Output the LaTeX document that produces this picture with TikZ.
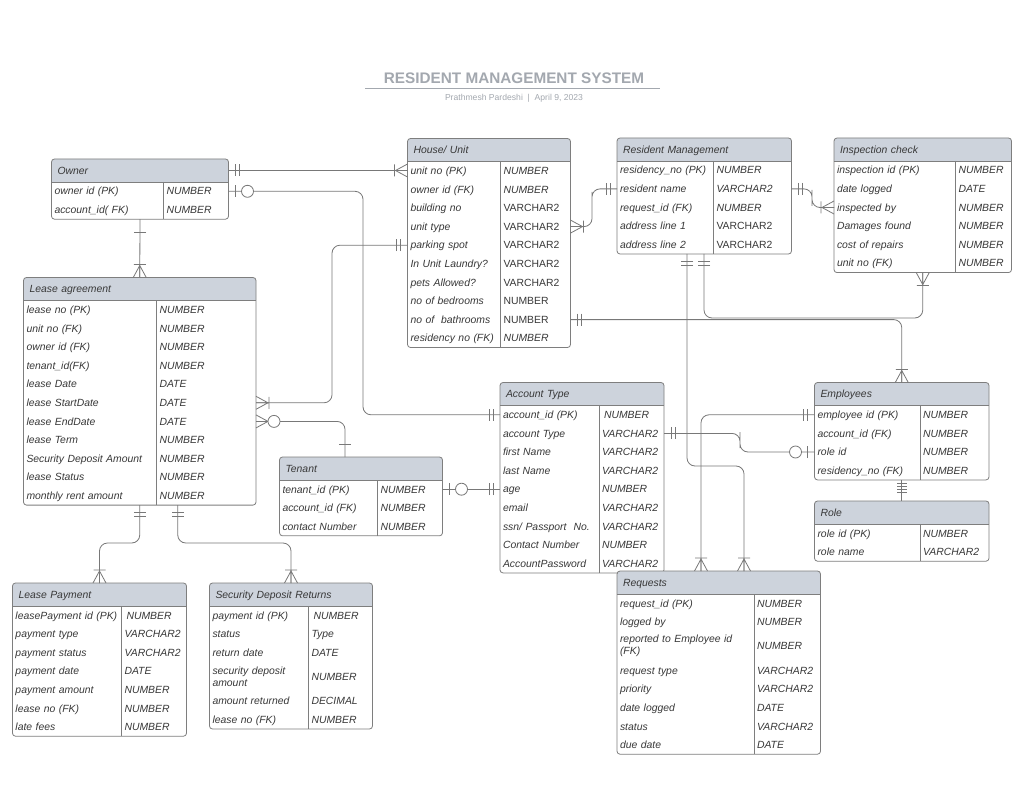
\documentclass[tikz,border=0pt]{standalone}
\usepackage{fontspec}
\setmainfont{Liberation Sans}
\usetikzlibrary{calc}
\definecolor{hdrc}{HTML}{CDD3DC}
\definecolor{bordc}{HTML}{7E7E7E}
\definecolor{linec}{HTML}{787878}
\definecolor{txtc}{HTML}{383838}
\definecolor{titc}{HTML}{A3A8AF}
\newcommand\up[1]{\textup{#1}}
\newcommand\ertab[6]{%
  \xdef\ername{#1}\xdef\erx{#2}\xdef\ertop{#3}\xdef\erw{#4}\xdef\erd{#5}%
  \pgfmathsetmacro\ertmp{#3+23}\xdef\ery{\ertmp}%
  \pgfmathsetmacro\ertmpw{#4-12}%
  \fill[hdrc, rounded corners=3pt] (#2,#3+23) -- (#2,#3) -- (#2+#4,#3) -- (#2+#4,#3+23);
  \node[hdr, text width=\ertmpw pt, anchor=base west] (#1) at (#2,#3+15.2) {#6};
}
\newcommand\erow[4][18.6]{%
  \pgfmathsetmacro\ertmpw{\erd-5}%
  \ifdim#1pt>20pt
    \pgfmathsetmacro\ertc{\ery+#1/2}%
    \node[fld, text width=\ertmpw pt, anchor=west] (\ername-#2) at (\erx,\ertc) {#3};
    \node[fld, anchor=base west] (\ername-#2t) at (\erx+\erd,\ertc+3.7) {#4};
  \else
    \pgfmathsetmacro\ertc{\ery+#1/2+3.7}%
    \node[fld, text width=\ertmpw pt, anchor=base west] (\ername-#2) at (\erx,\ertc) {#3};
    \node[fld, anchor=base west] (\ername-#2t) at (\erx+\erd,\ertc) {#4};
  \fi
  \pgfmathsetmacro\ertmp{\ery+#1}\xdef\ery{\ertmp}%
  \pgfmathsetmacro\ertmp{\ery-#1/2}%
  \coordinate (\ername-#2c) at (\erx,\ertmp);
}
\newcommand\ertabend{%
  \pgfmathsetmacro\erh{\ery-\ertop}%
  \node[tbox, minimum width=\erw pt, minimum height=\erh pt, anchor=north west] (\ername-box) at (\erx,\ertop) {};
  \draw[bordc, line width=0.8pt] (\erx,\ertop+23) -- (\erx+\erw,\ertop+23);
  \draw[bordc, line width=0.8pt] (\erx+\erd,\ertop+23) -- (\erx+\erd,\ery);
}
\tikzset{
  hdr/.style={font=\fontsize{10.4}{12}\selectfont\itshape, text=txtc, inner xsep=6pt, inner ysep=0pt, outer sep=0pt, align=left},
  fld/.style={font=\fontsize{10.4}{12}\selectfont\itshape, text=txtc, inner xsep=3pt, inner ysep=0pt, outer sep=0pt, align=left},
  tbox/.style={draw=bordc, line width=0.8pt, rounded corners=3pt, inner sep=0pt, outer sep=0pt},
  conn/.style={draw=linec, line width=0.8pt, rounded corners=8pt},
  mk/.style={draw=linec, line width=0.8pt},
  pics/erone/.style={code={\draw[mk] (13,-6) -- (13,6);}},
  pics/eronlyone/.style={code={\draw[mk] (7,-6) -- (7,6) (11,-6) -- (11,6);}},
  pics/eronemany/.style={code={\draw[mk] (0,-6.5) -- (12,0) -- (0,6.5) (0,0) -- (12,0) (13,-6) -- (13,6);}},
  pics/erzeromany/.style={code={\draw[mk] (0,-6.5) -- (12,0) -- (0,6.5); \draw[mk, fill=white] (18,0) circle (6pt);}},
  pics/erzeroone/.style={code={\draw[mk] (7,-6) -- (7,6); \draw[mk, fill=white] (19,0) circle (6pt);}},
  pics/erquad/.style={code={\draw[mk] (3,-5) -- (3,5) (6,-5) -- (6,5) (9,-5) -- (9,5) (12,-5) -- (12,5);}},
}
\begin{document}
\begin{tikzpicture}[x=1pt,y=-1pt]
\fill[white] (0,0) rectangle (1024,791);
\useasboundingbox (0,0) rectangle (1024,791);

% title
\node[font=\bfseries\fontsize{15.3}{18}\selectfont, text=titc] (title) at (514,78) {RESIDENT MANAGEMENT SYSTEM};
\draw[titc, line width=1pt] (365,88.5) -- (660,88.5);
\node[font=\fontsize{8.6}{10}\selectfont, text=titc] (subtitle) at (514,98) {Prathmesh Pardeshi\ \ |\ \ April 9, 2023};

% Owner
\ertab{owner}{51.5}{159}{177}{112}{Owner}
\erow{r1}{owner id (PK)}{NUMBER}
\erow{r2}{account\_id( FK)}{NUMBER}
\ertabend

% House
\ertab{house}{407.5}{138.5}{163}{93}{House/ Unit}
\erow{r1}{unit no (PK)}{NUMBER}
\erow{r2}{owner id (FK)}{NUMBER}
\erow{r3}{building no}{\up{VARCHAR2}}
\erow{r4}{unit type}{\up{VARCHAR2}}
\erow{r5}{parking spot}{\up{VARCHAR2}}
\erow{r6}{In Unit Laundry?}{\up{VARCHAR2}}
\erow{r7}{pets Allowed?}{\up{VARCHAR2}}
\erow{r8}{no of bedrooms}{\up{NUMBER}}
\erow{r9}{no of\ \ bathrooms}{\up{NUMBER}}
\erow{r10}{residency no (FK)}{NUMBER}
\ertabend

% Resident Management
\ertab{rm}{617}{138}{174.5}{96.5}{Resident Management}
\erow{r1}{residency\_no (PK)}{NUMBER}
\erow{r2}{resident name}{VARCHAR2}
\erow{r3}{request\_id (FK)}{NUMBER}
\erow{r4}{address line 1}{\up{VARCHAR2}}
\erow{r5}{address line 2}{\up{VARCHAR2}}
\ertabend

% Inspection check
\ertab{insp}{834}{138}{177.5}{121.5}{Inspection check}
\erow{r1}{inspection id (PK)}{NUMBER}
\erow{r2}{date logged}{DATE}
\erow{r3}{inspected by}{NUMBER}
\erow{r4}{Damages found}{NUMBER}
\erow{r5}{cost of repairs}{NUMBER}
\erow{r6}{unit no (FK)}{NUMBER}
\ertabend

% Lease agreement
\ertab{lease}{23.5}{277.5}{232.5}{133}{Lease agreement}
\erow{r1}{lease no (PK)}{NUMBER}
\erow{r2}{unit no (FK)}{NUMBER}
\erow{r3}{owner id (FK)}{NUMBER}
\erow{r4}{tenant\_id(FK)}{NUMBER}
\erow{r5}{lease Date}{DATE}
\erow{r6}{lease StartDate}{DATE}
\erow{r7}{lease EndDate}{DATE}
\erow{r8}{lease Term}{NUMBER}
\erow{r9}{Security Deposit Amount}{NUMBER}
\erow{r10}{lease Status}{NUMBER}
\erow{r11}{monthly rent amount}{NUMBER}
\ertabend

% Tenant
\ertab{tenant}{279.5}{457}{163}{98}{Tenant}
\erow{r1}{tenant\_id (PK)}{NUMBER}
\erow{r2}{account\_id (FK)}{NUMBER}
\erow{r3}{contact Number}{NUMBER}
\ertabend

% Account Type
\ertab{acct}{500}{382.5}{164}{99}{Account Type}
\erow{r1}{account\_id (PK)}{\hspace{2pt}NUMBER}
\erow{r2}{account Type}{VARCHAR2}
\erow{r3}{first Name}{VARCHAR2}
\erow{r4}{last Name}{VARCHAR2}
\erow{r5}{age}{NUMBER}
\erow{r6}{email}{VARCHAR2}
\erow{r7}{ssn/ Passport\ \ No.}{VARCHAR2}
\erow{r8}{Contact Number}{NUMBER}
\erow{r9}{AccountPassword}{VARCHAR2}
\ertabend

% Employees
\ertab{emp}{814.5}{382.5}{174.5}{105.5}{Employees}
\erow{r1}{employee id (PK)}{NUMBER}
\erow{r2}{account\_id (FK)}{NUMBER}
\erow{r3}{role id}{NUMBER}
\erow{r4}{residency\_no (FK)}{NUMBER}
\ertabend

% Role
\ertab{role}{814.5}{501}{174.5}{105.5}{Role}
\erow{r1}{role id (PK)}{NUMBER}
\erow{r2}{role name}{VARCHAR2}
\ertabend

% Lease Payment
\ertab{lp}{12.5}{583}{174}{109}{Lease Payment}
\erow{r1}{leasePayment id (PK)}{\hspace{2pt}NUMBER}
\erow{r2}{payment type}{VARCHAR2}
\erow{r3}{payment status}{VARCHAR2}
\erow{r4}{payment date}{DATE}
\erow{r5}{payment amount}{NUMBER}
\erow{r6}{lease no (FK)}{NUMBER}
\erow{r7}{late fees}{NUMBER}
\ertabend

% Security Deposit Returns
\ertab{sdr}{209.5}{583}{163}{99}{Security Deposit Returns}
\erow{r1}{payment id (PK)}{\hspace{2pt}NUMBER}
\erow{r2}{status}{Type}
\erow{r3}{return date}{DATE}
\erow[30]{r4}{security deposit amount}{NUMBER}
\erow{r5}{amount returned}{DECIMAL}
\erow{r6}{lease no (FK)}{NUMBER}
\ertabend

% Requests
\ertab{req}{617}{571}{203.5}{137}{Requests}
\erow{r1}{request\_id (PK)}{NUMBER}
\erow{r2}{logged by}{NUMBER}
\erow[30]{r3}{reported to Employee id (FK)}{NUMBER}
\erow{r4}{request type}{VARCHAR2}
\erow{r5}{priority}{VARCHAR2}
\erow{r6}{date logged}{DATE}
\erow{r7}{status}{VARCHAR2}
\erow{r8}{due date}{DATE}
\ertabend

% ---------- connectors ----------
\coordinate (t4) at ($(tenant-box.north west)+(65.5,0)$);
\coordinate (rmb1) at ($(rm-box.south west)+(70,0)$);
\coordinate (rmb2) at ($(rm-box.south west)+(87,0)$);
\coordinate (rq1) at ($(req-box.north west)+(84,0)$);
\coordinate (rq2) at ($(req-box.north west)+(127,0)$);
\coordinate (lb2) at ($(lease-box.south)+(38,0)$);
\coordinate (lb1) at (lease-box.south);

\draw[conn] (owner-box.east |- owner-box.north) ++(0,11.5) coordinate (o1) -- (o1 -| house-box.west) coordinate (h1);
\draw[conn] (owner-box.east |- owner-r1c) -| (363,300) |- (acct-box.west |- acct-r1c);
\draw[conn] (house-box.west |- house-r5c) -| (332,320) |- (lease-box.east |- lease-r6c);
\draw[conn] (lease-box.east |- lease-r7c) -| (t4);
\draw[conn] (owner-box.south) -- (lease-box.north);
\draw[conn] (house-box.east |- house-r9c) -| (emp-box.north);
\draw[conn] (rmb2) |- (800,318) -| (insp-box.south);
\draw[conn] (rmb1) |- (720,466) -| (rq2);
\draw[conn] (emp-box.west |- emp-r1c) -| (rq1);
\draw[conn] (acct-box.east |- acct-r2c) -| (740,440) |- (emp-box.west |- emp-r3c);
\draw[conn] (tenant-box.east |- acct-r5c) -- (acct-box.west |- acct-r5c);
\draw[conn] (house-box.east |- house-r4c) -| (592,200) |- (rm-box.west |- rm-r2c);
\draw[conn] (rm-box.east |- rm-r2c) -| (812,198) |- (insp-box.west |- insp-r3c);
\draw[conn] (lb1) |- (120,543) -| (lp-box.north);
\draw[conn] (lb2) |- (230,543) -| (sdr-box.north);
\draw[conn] (emp-box.south) -- (role-box.north);

% ---------- end markers ----------
\pic[rotate=0] at (o1) {eronlyone};
\pic[rotate=180] at (h1) {eronemany};
\pic[rotate=0] at (owner-box.east |- owner-r1c) {erzeroone};
\pic[rotate=180] at (acct-box.west |- acct-r1c) {eronlyone};
\pic[rotate=180] at (house-box.west |- house-r5c) {eronlyone};
\pic[rotate=0] at (lease-box.east |- lease-r6c) {eronemany};
\pic[rotate=0] at (lease-box.east |- lease-r7c) {erzeromany};
\pic[rotate=90] at (t4) {erone};
\pic[rotate=270] at (owner-box.south) {erone};
\pic[rotate=90] at (lease-box.north) {eronemany};
\pic[rotate=0] at (house-box.east |- house-r9c) {eronlyone};
\pic[rotate=90] at (emp-box.north) {eronemany};
\pic[rotate=270] at (rmb2) {eronlyone};
\pic[rotate=270] at (insp-box.south) {eronemany};
\pic[rotate=270] at (rmb1) {eronlyone};
\pic[rotate=90] at (rq2) {eronemany};
\pic[rotate=180] at (emp-box.west |- emp-r1c) {eronlyone};
\pic[rotate=90] at (rq1) {eronemany};
\pic[rotate=0] at (acct-box.east |- acct-r2c) {eronlyone};
\pic[rotate=180] at (emp-box.west |- emp-r3c) {erzeroone};
\pic[rotate=0] at (tenant-box.east |- acct-r5c) {erzeroone};
\pic[rotate=180] at (acct-box.west |- acct-r5c) {eronlyone};
\pic[rotate=0] at (house-box.east |- house-r4c) {eronemany};
\pic[rotate=180] at (rm-box.west |- rm-r2c) {eronlyone};
\pic[rotate=0] at (rm-box.east |- rm-r2c) {eronlyone};
\pic[rotate=180] at (insp-box.west |- insp-r3c) {eronemany};
\pic[rotate=270] at (lb1) {eronlyone};
\pic[rotate=90] at (lp-box.north) {eronemany};
\pic[rotate=270] at (lb2) {eronlyone};
\pic[rotate=90] at (sdr-box.north) {eronemany};
\pic[rotate=270] at (emp-box.south) {erquad};
\end{tikzpicture}
\end{document}
